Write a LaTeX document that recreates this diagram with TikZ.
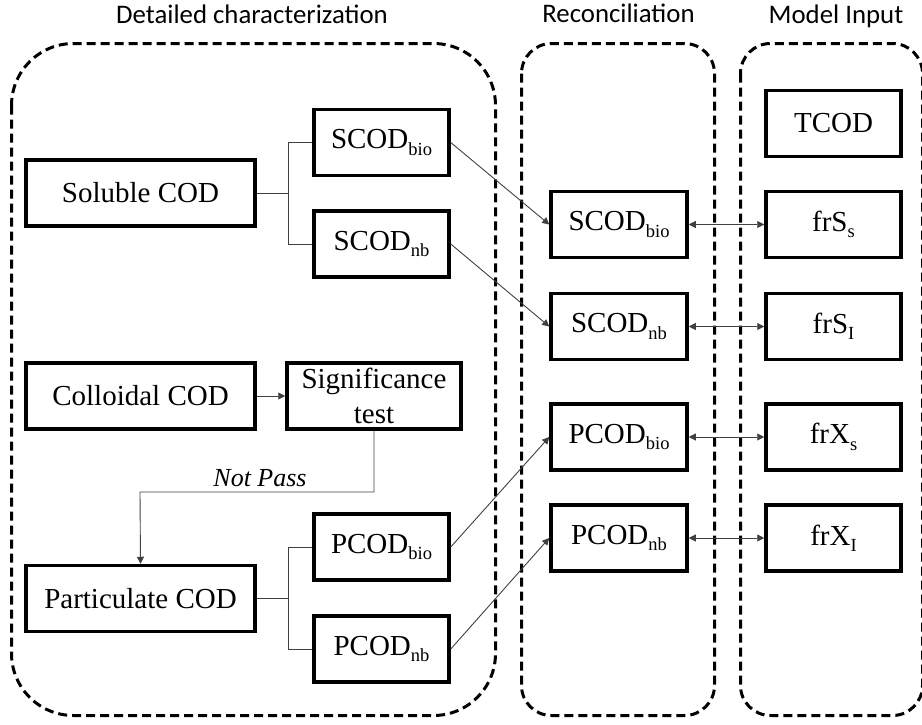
\documentclass[tikz,border=0pt]{standalone}
\usepackage{fontspec}
\setmainfont{Liberation Serif}
\newfontfamily\headfont{Carlito}
\usetikzlibrary{arrows.meta}

% lowered subscript as used in the box labels
\newcommand\lowsub[1]{\raisebox{-0.22em}{\fontsize{18.5}{18.5}\selectfont #1}}

\tikzset{
  box/.style={draw, line width=3.5pt, inner sep=0pt, align=center,
    font=\fontsize{29}{35}\selectfont, minimum height=66pt},
  wide/.style={box, minimum width=229pt},
  narrow/.style={box, minimum width=135pt},
  group/.style={draw, line width=3pt, dash pattern=on 9pt off 5pt},
  link/.style={draw=black!75, line width=0.9pt},
  tip/.style={-{Triangle[length=7pt,width=7pt]}},
  both/.style={{Triangle[length=7pt,width=7pt]}-{Triangle[length=7pt,width=7pt]}},
  heading/.style={font=\headfont\fontsize{26.8}{30}\selectfont, inner sep=0pt, anchor=base}
}

\begin{document}
\begin{tikzpicture}[x=1pt,y=-1pt]
  \useasboundingbox (0,0) rectangle (922,724);
  \clip (0,0) rectangle (922,724);

  % group frames
  \draw[group, rounded corners=62pt] (11.5,43.5) rectangle (495.5,715.5);
  \draw[group, rounded corners=30pt] (521.5,43.5) rectangle (714.5,715.5);
  \draw[group, rounded corners=30pt] (740.5,43.5) rectangle (922.5,715.5);

  % group headings
  \node[heading] (h1) at (252,23) {Detailed characterization};
  \node[heading] (h2) at (618.5,22.5) {Reconciliation};
  \node[heading] (h3) at (836,23) {Model Input};

  % detailed characterization
  \node[wide] (sol) at (140.5,193) {Soluble COD};
  \node[narrow] (sbio) at (381.5,142.5) {SCOD\lowsub{bio}};
  \node[narrow] (snb) at (381.5,244) {SCOD\lowsub{nb}};
  \node[wide] (col) at (140.5,396) {Colloidal COD};
  \node[box, minimum width=174pt] (sig) at (374,396) {Significance\\test};
  \node[wide] (par) at (140.5,598.5) {Particulate COD};
  \node[narrow] (pbio) at (381.5,547) {PCOD\lowsub{bio}};
  \node[narrow] (pnb) at (381.5,649) {PCOD\lowsub{nb}};

  % reconciliation
  \node[box, minimum width=136pt] (rsbio) at (619,224.5) {SCOD\lowsub{bio}};
  \node[box, minimum width=136pt] (rsnb) at (619,326.5) {SCOD\lowsub{nb}};
  \node[box, minimum width=136pt] (rpbio) at (619,437) {PCOD\lowsub{bio}};
  \node[box, minimum width=136pt] (rpnb) at (619,538) {PCOD\lowsub{nb}};

  % model input
  \node[narrow] (tcod) at (833.5,123.5) {TCOD};
  \node[narrow] (frss) at (833.5,224.5) {frS\lowsub{s}};
  \node[narrow] (frsi) at (833.5,326.5) {frS\lowsub{I}};
  \node[narrow] (frxs) at (833.5,437) {frX\lowsub{s}};
  \node[narrow] (frxi) at (833.5,538) {frX\lowsub{I}};

  % branching of soluble and particulate fractions
  \coordinate (sj) at (288,193);
  \coordinate (pj) at (288,598.5);
  \draw[link] (sol.east) -- (sj) |- (sbio.west);
  \draw[link] (sj) |- (snb.west);
  \draw[link] (par.east) -- (pj) |- (pbio.west);
  \draw[link] (pj) |- (pnb.west);

  % colloidal test path
  \draw[link, tip] (col.east) -- (sig.west);
  \coordinate (np) at (140,492);
  \draw[link, tip] (sig.south) |- (np) -- (par.north);
  \node[font=\itshape\fontsize{26}{30}\selectfont, inner sep=0pt] (nplabel) at (260,478) {Not Pass};

  % links into reconciliation
  \draw[link, tip] (sbio.east) -- (rsbio.west);
  \draw[link, tip] (snb.east) -- (rsnb.west);
  \draw[link, tip] (pbio.east) -- (rpbio.west);
  \draw[link, tip] (pnb.east) -- (rpnb.west);

  % reconciliation <-> model input
  \draw[link, both] (rsbio.east) -- (frss.west);
  \draw[link, both] (rsnb.east) -- (frsi.west);
  \draw[link, both] (rpbio.east) -- (frxs.west);
  \draw[link, both] (rpnb.east) -- (frxi.west);
\end{tikzpicture}
\end{document}
